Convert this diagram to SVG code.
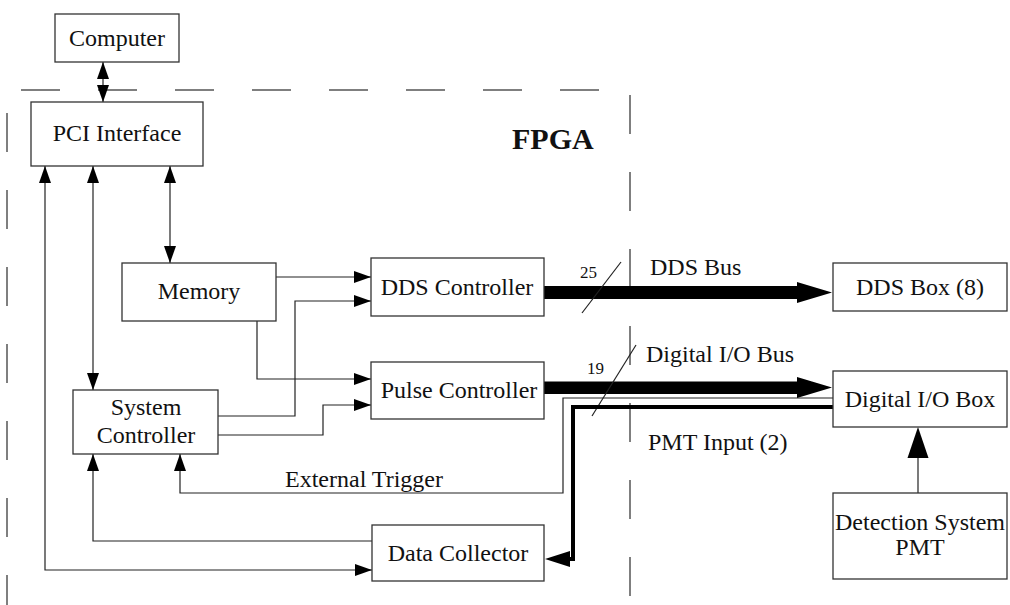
<svg xmlns="http://www.w3.org/2000/svg" width="1010" height="605" viewBox="0 0 1010 605">
  <style>
    .box { fill: #fff; stroke: #333; stroke-width: 1.3; }
    .lbl { font-family: "Liberation Serif", "Times New Roman", serif; font-size: 24px; fill: #111; text-anchor: middle; }
    .txt { font-family: "Liberation Serif", "Times New Roman", serif; font-size: 24px; fill: #111; }
    .small { font-family: "Liberation Serif", "Times New Roman", serif; font-size: 17px; fill: #111; }
    .title { font-family: "Liberation Serif", "Times New Roman", serif; font-size: 30px; font-weight: bold; fill: #111; }
    .wire { fill: none; stroke: #222; stroke-width: 1.2; }
    .bound { fill: none; stroke: #555; stroke-width: 1.5; stroke-dasharray: 39 38; }
    .slash { stroke: #222; stroke-width: 1.2; }
    .bus { fill: #000; }
  </style>
  <defs>
    <marker id="arr" markerUnits="userSpaceOnUse" markerWidth="17" markerHeight="12" refX="17" refY="6" orient="auto-start-reverse">
      <path d="M0,0 L17,6 L0,12 Z" fill="#000"/>
    </marker>
  </defs>

  <!-- FPGA boundary -->
  <g id="fpga-boundary">
    <line class="bound" x1="21" y1="90" x2="600" y2="90"/>
    <line class="bound" x1="7" y1="113" x2="7" y2="605"/>
    <line class="bound" x1="630" y1="95" x2="630" y2="605"/>
    <text class="title" x="512" y="149">FPGA</text>
  </g>

  <!-- connectors -->
  <g id="connectors">
    <!-- Computer <-> PCI -->
    <line class="wire" x1="103" y1="62" x2="103" y2="102" marker-start="url(#arr)" marker-end="url(#arr)"/>
    <!-- PCI <-> Memory -->
    <line class="wire" x1="170" y1="166" x2="170" y2="263" marker-start="url(#arr)" marker-end="url(#arr)"/>
    <!-- PCI <-> System Controller -->
    <line class="wire" x1="93" y1="166" x2="93" y2="390" marker-start="url(#arr)" marker-end="url(#arr)"/>
    <!-- PCI <-> Data Collector -->
    <polyline class="wire" points="45,166 45,570 372,570" marker-start="url(#arr)" marker-end="url(#arr)"/>
    <!-- Memory -> DDS Controller -->
    <polyline class="wire" points="276,277 371,277" marker-end="url(#arr)"/>
    <!-- Memory -> Pulse Controller -->
    <polyline class="wire" points="257,321 257,379 371,379" marker-end="url(#arr)"/>
    <!-- System Controller -> DDS Controller -->
    <polyline class="wire" points="218,416 295,416 295,301 371,301" marker-end="url(#arr)"/>
    <!-- System Controller -> Pulse Controller -->
    <polyline class="wire" points="218,435 323,435 323,405 371,405" marker-end="url(#arr)"/>
    <!-- Data Collector -> System Controller -->
    <polyline class="wire" points="372,541 93,541 93,454" marker-end="url(#arr)"/>
    <!-- External Trigger -->
    <polyline class="wire" points="833,398 563,398 563,493 180,493 180,454" marker-end="url(#arr)"/>
    <text class="txt" x="285" y="487">External Trigger</text>

    <!-- DDS bus -->
    <polygon class="bus" points="544,286 797,286 797,282 832,292.5 797,303 797,299 544,299"/>
    <line class="slash" x1="582" y1="313" x2="621" y2="262"/>
    <text class="small" x="580" y="278">25</text>
    <text class="txt" x="650" y="275">DDS Bus</text>

    <!-- Digital I/O bus -->
    <polygon class="bus" points="544,381.5 797,381.5 797,377 832,387.5 797,398 797,394 544,394"/>
    <line class="slash" x1="592" y1="416" x2="636" y2="345"/>
    <text class="small" x="587" y="374">19</text>
    <text class="txt" x="646" y="362">Digital I/O Bus</text>

    <!-- PMT input -->
    <polyline fill="none" stroke="#000" stroke-width="4" points="833,407 573,407 573,559 568,559"/>
    <polygon fill="#000" points="545,559 570,551 570,567"/>
    <text class="txt" x="648" y="450">PMT Input (2)</text>

    <!-- Detection System -> Digital I/O Box -->
    <line class="wire" x1="918" y1="493" x2="918" y2="455"/>
    <polygon fill="#000" points="918,427 907.5,458 928.5,458"/>
  </g>

  <!-- nodes -->
  <g id="computer">
    <rect class="box" x="55" y="14" width="124" height="48"/>
    <text class="lbl" x="117" y="46">Computer</text>
  </g>
  <g id="pci-interface">
    <rect class="box" x="31" y="102" width="172" height="64"/>
    <text class="lbl" x="117" y="141">PCI Interface</text>
  </g>
  <g id="memory">
    <rect class="box" x="122" y="263" width="154" height="58"/>
    <text class="lbl" x="199" y="299">Memory</text>
  </g>
  <g id="system-controller">
    <rect class="box" x="73" y="390" width="145" height="64"/>
    <text class="lbl" x="146" y="415">System</text>
    <text class="lbl" x="146" y="443">Controller</text>
  </g>
  <g id="dds-controller">
    <rect class="box" x="371" y="258" width="173" height="58"/>
    <text class="lbl" x="457" y="295">DDS Controller</text>
  </g>
  <g id="pulse-controller">
    <rect class="box" x="371" y="362" width="173" height="57"/>
    <text class="lbl" x="459" y="398">Pulse Controller</text>
  </g>
  <g id="data-collector">
    <rect class="box" x="372" y="525" width="172" height="56"/>
    <text class="lbl" x="458" y="561">Data Collector</text>
  </g>
  <g id="dds-box">
    <rect class="box" x="833" y="263" width="174" height="48"/>
    <text class="lbl" x="920" y="295">DDS Box (8)</text>
  </g>
  <g id="digital-io-box">
    <rect class="box" x="833" y="371" width="174" height="56"/>
    <text class="lbl" x="920" y="407">Digital I/O Box</text>
  </g>
  <g id="detection-system">
    <rect class="box" x="833" y="493" width="174" height="86"/>
    <text class="lbl" x="920" y="530">Detection System</text>
    <text class="lbl" x="920" y="555">PMT</text>
  </g>
</svg>
